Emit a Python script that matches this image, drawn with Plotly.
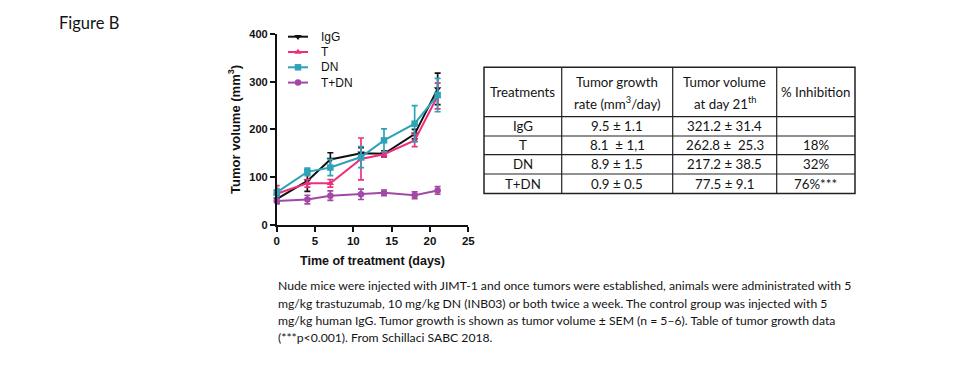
import plotly.graph_objects as go

# ---------------- data ----------------
days = [0, 4, 7, 11, 14, 18, 21]
igg = [54, 92, 137, 150, 149, 190, 285]
igg_err = [8, 22, 14, 12, 6, 10, 33]
t_vals = [65, 87, 87, 138, 148, 177, 270]
t_err = [17, 8, 8, 44, 6, 13, 27]
dn_vals = [68, 111, 120, 142, 177, 212, 272]
dn_err = [8, 8, 17, 22, 24, 38, 35]
tdn_vals = [50, 53, 61, 64, 67, 62, 72]
tdn_err = [6, 9, 10, 11, 6, 7, 8]

series_names = ["IgG", "T", "DN", "T+DN"]
x_ticks = [0, 5, 10, 15, 20, 25]
y_ticks = [0, 100, 200, 300, 400]

table_header_line1 = ["Treatments", "Tumor growth", "Tumor volume", "% Inhibition"]
table_header_line2 = ["", "rate (mm<sup>3</sup>/day)", "at day 21<sup>th</sup>", ""]
table_treatments = ["IgG", "T", "DN", "T+DN"]
table_rate = ["9.5 ± 1.1", "8.1  ± 1,1", "8.9 ± 1.5", "0.9 ± 0.5"]
table_volume = ["321.2 ± 31.4", "262.8 ±  25.3", "217.2 ± 38.5", "77.5 ± 9.1"]
table_inhib = ["", "18%", "32%", "76%***"]

caption_lines = [
    "Nude mice were injected with JIMT-1 and once tumors were established, animals were administrated with 5",
    "mg/kg trastuzumab, 10 mg/kg DN (INB03) or both twice a week. The control group was injected with 5",
    "mg/kg human IgG. Tumor growth is shown as tumor volume ± SEM (n = 5–6). Table of tumor growth data",
    "(***p<0.001). From Schillaci SABC 2018.",
]

# ---------------- styles ----------------
W, H = 975, 370
colors = ["#111111", "#EC2F7C", "#2EA3B8", "#A348A6"]
symbols = ["triangle-down", "triangle-up", "square", "circle"]
AX_FONT = "Liberation Sans, Arial, sans-serif"
TXT_FONT = "Lato, Carlito, Calibri, sans-serif"
TXT_COL = "#141414"


def px(x):
    return x / W


def py(y):
    return 1 - y / H


fig = go.Figure()

all_vals = [igg, t_vals, dn_vals, tdn_vals]
all_err = [igg_err, t_err, dn_err, tdn_err]
for name, vals, err, c, s in zip(series_names, all_vals, all_err, colors, symbols):
    fig.add_trace(go.Scatter(
        x=days, y=vals, name=name, mode="lines+markers",
        line=dict(color=c, width=2),
        marker=dict(color=c, symbol=s, size=6.5),
        error_y=dict(type="data", array=err, color=c, thickness=1.7, width=3),
        cliponaxis=False, showlegend=False,
        xaxis="x", yaxis="y",
    ))

# manual legend on a full-figure pixel overlay axis
leg_x0, leg_x1, leg_text_x = 288, 308, 319
leg_y0, leg_dy = 36.7, 15.3
for i, (name, c, s) in enumerate(zip(series_names, colors, symbols)):
    yy = leg_y0 + i * leg_dy
    fig.add_trace(go.Scatter(
        x=[leg_x0, leg_x1], y=[yy, yy], mode="lines",
        line=dict(color=c, width=2),
        showlegend=False, hoverinfo="skip",
        xaxis="x2", yaxis="y2", cliponaxis=False,
    ))
    fig.add_trace(go.Scatter(
        x=[(leg_x0 + leg_x1) / 2], y=[yy], mode="markers",
        marker=dict(color=c, symbol=s, size=6.5),
        showlegend=False, hoverinfo="skip",
        xaxis="x2", yaxis="y2", cliponaxis=False,
    ))
    fig.add_annotation(x=leg_text_x, y=yy, xref="x2", yref="y2", text=name,
                       showarrow=False, xanchor="left", yanchor="middle",
                       font=dict(family=AX_FONT, size=12, color="#111"))

# ---------------- axes ----------------
plot_l, plot_r = 276.7, 468.3
plot_b, plot_t = 224.8, 34.0

fig.update_layout(
    width=W, height=H,
    margin=dict(l=0, r=0, t=0, b=0),
    paper_bgcolor="white", plot_bgcolor="rgba(0,0,0,0)",
    showlegend=False,
    xaxis=dict(
        domain=[px(plot_l), px(plot_r)], range=[0, 25], anchor="y",
        tickvals=x_ticks, ticks="outside", ticklen=5, tickwidth=1.7,
        tickcolor="#111", showline=True, linewidth=1.7, linecolor="#111",
        showgrid=False, zeroline=False, automargin=False,
        tickfont=dict(family=AX_FONT, size=11.5, color="#111", weight="bold"),
        title=dict(text="Time of treatment (days)", standoff=10,
                   font=dict(family=AX_FONT, size=12.5, color="#111", weight="bold")),
    ),
    yaxis=dict(
        domain=[py(plot_b), py(plot_t)], range=[0, 400], anchor="x",
        tickvals=y_ticks, ticks="outside", ticklen=5, tickwidth=1.7,
        tickcolor="#111", showline=True, linewidth=1.7, linecolor="#111",
        showgrid=False, zeroline=False, automargin=False,
        tickfont=dict(family=AX_FONT, size=11, color="#111", weight="bold"),
        title=dict(text="Tumor volume (mm<sup>3</sup>)", standoff=6,
                   font=dict(family=AX_FONT, size=13, color="#111", weight="bold")),
    ),
    xaxis2=dict(domain=[0, 1], range=[0, W], anchor="y2", visible=False, fixedrange=True),
    yaxis2=dict(domain=[0, 1], range=[H, 0], anchor="x2", visible=False, fixedrange=True),
)

# ---------------- "Figure B" ----------------
fig.add_annotation(x=px(57), y=py(22.5), xref="paper", yref="paper", text="Figure B",
                   showarrow=False, xanchor="left", yanchor="middle",
                   font=dict(family=TXT_FONT, size=16.5, color=TXT_COL))

# ---------------- table ----------------
col_edges = [484, 561.7, 672.7, 776.7, 855]
row_edges = [67.3, 116.7, 136.0, 154.6, 174.0, 193.4]
line_col = "#222"
fig.add_shape(type="rect", xref="paper", yref="paper",
              x0=px(col_edges[0]), x1=px(col_edges[-1]),
              y0=py(row_edges[-1]), y1=py(row_edges[0]),
              line=dict(color=line_col, width=1.5))
for xe in col_edges[1:-1]:
    fig.add_shape(type="line", xref="paper", yref="paper",
                  x0=px(xe), x1=px(xe), y0=py(row_edges[-1]), y1=py(row_edges[0]),
                  line=dict(color=line_col, width=1.2))
for ye in row_edges[1:-1]:
    fig.add_shape(type="line", xref="paper", yref="paper",
                  x0=px(col_edges[0]), x1=px(col_edges[-1]), y0=py(ye), y1=py(ye),
                  line=dict(color=line_col, width=1.2))

col_centers = [(a + b) / 2 for a, b in zip(col_edges[:-1], col_edges[1:])]
tfont = dict(family=TXT_FONT, size=13.3, color=TXT_COL)
head_mid = (row_edges[0] + row_edges[1]) / 2
for cx, l1, l2 in zip(col_centers, table_header_line1, table_header_line2):
    if l2:
        fig.add_annotation(x=px(cx), y=py(81.7), xref="paper", yref="paper", text=l1,
                           showarrow=False, xanchor="center", yanchor="middle", font=tfont)
        fig.add_annotation(x=px(cx), y=py(103.3), xref="paper", yref="paper", text=l2,
                           showarrow=False, xanchor="center", yanchor="middle", font=tfont)
    else:
        fig.add_annotation(x=px(cx), y=py(head_mid - 0.5), xref="paper", yref="paper", text=l1,
                           showarrow=False, xanchor="center", yanchor="middle", font=tfont)

columns = [table_treatments, table_rate, table_volume, table_inhib]
for r in range(len(table_treatments)):
    cy = (row_edges[r + 1] + row_edges[r + 2]) / 2
    for cx, col in zip(col_centers, columns):
        if col[r]:
            fig.add_annotation(x=px(cx), y=py(cy), xref="paper", yref="paper", text=col[r],
                               showarrow=False, xanchor="center", yanchor="middle", font=tfont)

# ---------------- caption ----------------
cap_y = [285.7, 303.0, 320.3, 337.0]
for line, yy in zip(caption_lines, cap_y):
    fig.add_annotation(x=px(276), y=py(yy), xref="paper", yref="paper", text=line,
                       showarrow=False, xanchor="left", yanchor="middle",
                       font=dict(family=TXT_FONT, size=12.2, color=TXT_COL))

fig.write_html("out.html", config={"displayModeBar": False},
               post_script="document.body.style.margin='0';")
